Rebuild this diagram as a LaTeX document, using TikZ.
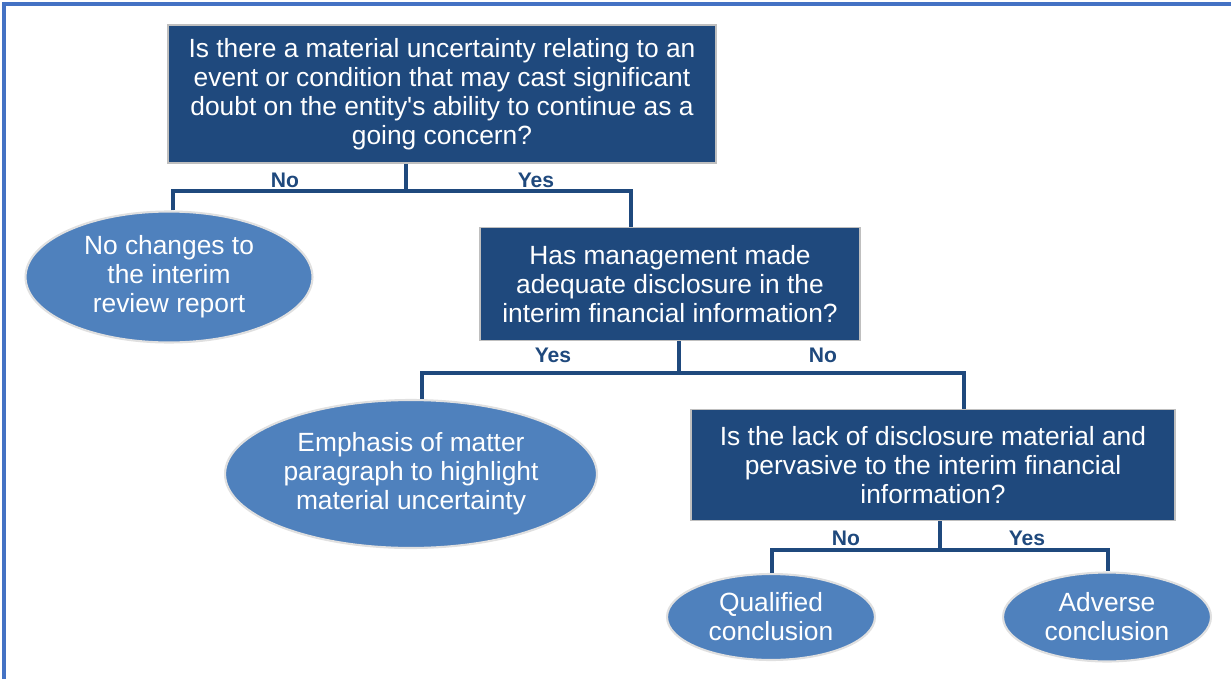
\documentclass[tikz,border=0pt]{standalone}
\usepackage{fontspec}
\setmainfont{Liberation Sans}
\usetikzlibrary{shapes.geometric}
\definecolor{navy}{RGB}{31,73,125}
\definecolor{midblue}{RGB}{79,129,189}
\definecolor{framebl}{RGB}{68,114,196}
\tikzset{
  qbox/.style={rectangle, fill=navy, draw=black!25, line width=1pt, text=white,
    align=center, inner sep=0pt, font=\fontsize{15}{16.5}\selectfont},
  ans/.style={ellipse, fill=midblue, draw=black!12, line width=1.2pt, text=white,
    align=center, inner sep=0pt, font=\fontsize{15}{16.5}\selectfont},
  conn/.style={draw=navy, line width=2.2pt},
  lab/.style={text=navy, font=\bfseries\fontsize{12}{14}\selectfont},
}
\begin{document}
\begin{tikzpicture}[x=0.02cm, y=-0.02cm]
            \useasboundingbox (0,0) rectangle (1231,679);
            \draw[framebl, line width=2pt] (4,679) -- (4,4) -- (1231,4);
            % questions
            \node[qbox, minimum width=10.96cm, minimum height=2.76cm] (concern) at (442,94)
            {Is there a material uncertainty relating to an\\event or condition that may cast significant\\doubt on the entity\textquotesingle s ability to continue as a\\going concern?};
            \node[qbox, minimum width=7.6cm, minimum height=2.26cm] (disclosure) at (670,284)
            {Has management made\\adequate disclosure in the\\interim financial information?};
            \node[qbox, minimum width=9.68cm, minimum height=2.22cm] (pervasive) at (933,465)
            {Is the lack of disclosure material and\\pervasive to the interim financial\\information?};
            % outcomes
            \node[ans, minimum width=5.74cm, minimum height=2.62cm] (nochange) at (169,277)
            {No changes to\\the interim\\review report};
            \node[ans, minimum width=7.44cm, minimum height=2.96cm] (emphasis) at (411,474)
            {Emphasis of matter\\paragraph to highlight\\material uncertainty};
            \node[ans, minimum width=4.16cm, minimum height=1.72cm] (qualified) at (771,617)
            {Qualified\\conclusion};
            \node[ans, minimum width=4.16cm, minimum height=1.78cm] (adverse) at (1107,617)
            {Adverse\\conclusion};
            % branches
            \coordinate (split1) at (406,191);
            \coordinate (left1) at (173,191);
            \coordinate (right1) at (631,191);
            \coordinate (split2) at (679,373);
            \coordinate (left2) at (422,373);
            \coordinate (right2) at (964,373);
            \coordinate (split3) at (940,550);
            \coordinate (left3) at (772,550);
            \coordinate (right3) at (1108,550);
            \draw[conn] (concern.south -| split1) -- (split1);
            \draw[conn] (left1 |- nochange.north) -- (left1) -- (right1) -- (right1 |- disclosure.north);
            \draw[conn] (disclosure.south -| split2) -- (split2);
            \draw[conn] (left2 |- emphasis.north) -- (left2) -- (right2) -- (right2 |- pervasive.north);
            \draw[conn] (pervasive.south -| split3) -- (split3);
            \draw[conn] (left3 |- qualified.north) -- (left3) -- (right3) -- (right3 |- adverse.north);
            \foreach \n/\x/\y/\t in {no1/285/180/No, yes1/536/180/Yes, yes2/553/355/Yes,
              no2/823/355/No, no3/846/538/No, yes3/1027/538/Yes}
            \node[lab] (\n) at (\x,\y) {\t};
        \end{tikzpicture}
\end{document}
